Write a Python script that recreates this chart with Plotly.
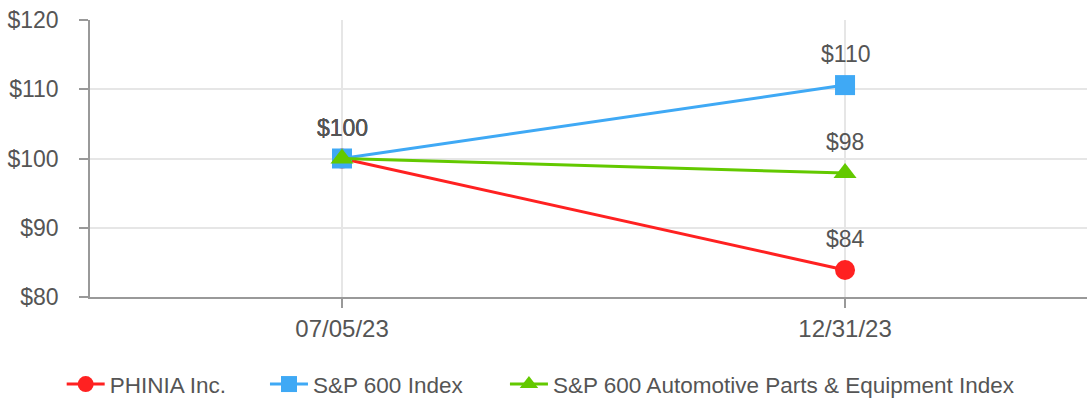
import plotly.graph_objects as go

dates = ["07/05/23", "12/31/23"]
phinia = [100, 83.9]
sp600 = [100, 110.6]
auto_parts = [100, 97.9]
phinia_labels = ["$100", "$84"]
sp600_labels = ["$100", "$110"]
auto_labels = ["$100", "$98"]
y_ticks = [80, 90, 100, 110, 120]
y_tick_text = ["$80", "$90", "$100", "$110", "$120"]

FONT = "Liberation Sans, Arial, sans-serif"
TXT = "#555555"

series = [
    ("PHINIA Inc.", phinia, phinia_labels, "#FF2121", "circle", "legend", -0.0284),
    ("S&P 600 Index", sp600, sp600_labels, "#3FA9F5", "square", "legend2", 0.1755),
    ("S&P 600 Automotive Parts & Equipment Index", auto_parts, auto_labels, "#63C900", "triangle-up", "legend3", 0.4162),
]

fig = go.Figure()
annotations = []
legends = {}
for name, vals, labels, color, sym, leg, lx in series:
    fig.add_trace(go.Scatter(
        x=dates, y=vals, name=name, mode="lines+markers",
        line=dict(color=color, width=3),
        marker=dict(symbol=sym, size=20, color=color, line=dict(width=0)),
        cliponaxis=False, legend=leg,
    ))
    legends[leg] = dict(
        orientation="h", x=lx, xanchor="left", y=-0.3156, yanchor="middle",
        font=dict(size=22.5, color=TXT, family=FONT), itemwidth=38,
        bgcolor="rgba(0,0,0,0)",
    )
    for x, y, t in zip(dates, vals, labels):
        annotations.append(dict(
            x=x, y=y, text=t, showarrow=False, yshift=31,
            xanchor="center", yanchor="middle",
            font=dict(size=23, color=TXT, family=FONT),
        ))

fig.update_layout(
    width=1087, height=406,
    margin=dict(l=90, r=0, t=20, b=104),
    paper_bgcolor="white", plot_bgcolor="white",
    font=dict(family=FONT, size=23, color=TXT),
    annotations=annotations,
    showlegend=True,
    xaxis=dict(
        type="category", range=[-0.501, 1.481],
        showgrid=True, gridcolor="#e6e6e6", gridwidth=1.5,
        showline=True, linecolor="#999999", linewidth=1.5,
        ticks="outside", ticklen=9, tickcolor="#999999", tickwidth=1.5,
        tickfont=dict(size=24, color=TXT, family=FONT),
        zeroline=False,
    ),
    yaxis=dict(
        range=[80, 120], tickvals=y_ticks, ticktext=y_tick_text,
        showgrid=True, gridcolor="#e6e6e6", gridwidth=1.5,
        showline=True, linecolor="#999999", linewidth=1.5,
        ticks="outside", ticklen=9, tickcolor="#999999", tickwidth=1.5,
        tickfont=dict(size=23, color=TXT, family=FONT),
        ticklabelstandoff=16,
        zeroline=False,
    ),
    **legends,
)

fig.write_html(
    "out.html",
    config={"displayModeBar": False},
    post_script=(
        "document.documentElement.style.margin='0';"
        "document.body.style.margin='0';"
        "document.body.style.overflow='hidden';"
        "var d=document.getElementById('{plot_id}');"
        "d.style.position='fixed';d.style.top='0';d.style.left='0';"
    ),
)
